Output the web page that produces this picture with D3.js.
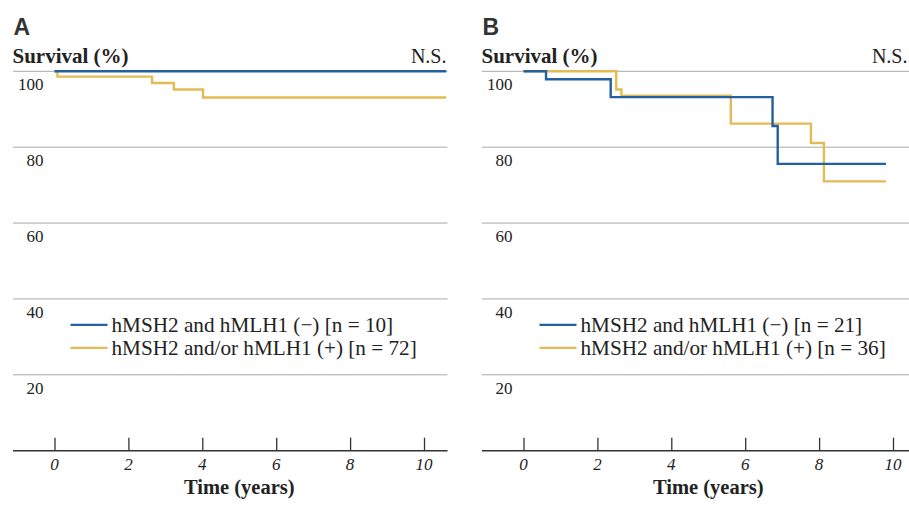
<!DOCTYPE html>
<html>
<head>
<meta charset="utf-8">
<script src="https://cdn.jsdelivr.net/npm/d3@7"></script>
<style>
  body { margin: 0; background: #fff; }
  svg { display: block; }
  .serif { font-family: "Liberation Serif", "Times New Roman", serif; fill: #222; }
</style>
</head>
<body>
<div id="chart"></div>
<script>
// ---- data ----
var timeTicks = [0, 2, 4, 6, 8, 10];
var survivalTicks = [20, 40, 60, 80, 100];

// panel A (step curves: value holds from each time to the next)
var aNegTimes = [0, 10.6];
var aNegSurv  = [100, 100];
var aPosTimes = [0, 0.08, 2.64, 3.23, 4.02, 10.6];
var aPosSurv  = [100, 98.6, 96.9, 95.2, 93.1, 93.1];

// panel B
var bNegTimes = [0, 0.61, 2.36, 6.74, 6.88, 9.81];
var bNegSurv  = [100, 97.9, 93.2, 85.6, 75.6, 75.6];
var bPosTimes = [0, 2.51, 2.65, 5.61, 7.78, 8.13, 9.81];
var bPosSurv  = [100, 95.2, 93.6, 86.2, 81.1, 71.0, 71.0];

var aLegend = ["hMSH2 and hMLH1 (\u2212) [n = 10]", "hMSH2 and/or hMLH1 (+) [n = 72]"];
var bLegend = ["hMSH2 and hMLH1 (\u2212) [n = 21]", "hMSH2 and/or hMLH1 (+) [n = 36]"];

var blue = "#23609f", yellow = "#e3bb55";

var W = 909, H = 507;
var svg = d3.select("#chart").append("svg")
    .attr("width", W)
    .attr("height", H);

function zip(ts, vs) {
    return ts.map(function(t, i) { return [t, vs[i]]; });
}

function drawPanel(p) {
    var g = svg.append("g")
        .attr("transform", "translate(" + p.x0 + ",0)");

    var x = d3.scaleLinear().domain([0, 10]).range([0, 369.5]);
    var y = d3.scaleLinear().domain([0, 100]).range([450.7, 71.3]);

    // panel letter
    g.append("text")
        .attr("x", -41).attr("y", 35)
        .style("font-family", "'Liberation Sans', Arial, sans-serif")
        .style("font-weight", "bold").style("font-size", "23px")
        .style("fill", "#333")
        .text(p.letter);

    g.append("text").attr("class", "serif")
        .attr("x", -42).attr("y", 63)
        .style("font-weight", "bold").style("font-size", "21px")
        .text("Survival (%)");

    g.append("text").attr("class", "serif")
        .attr("x", p.nsX).attr("y", 63)
        .attr("text-anchor", "end")
        .style("font-size", "20px")
        .text("N.S.");

    // horizontal gridlines
    g.selectAll(".grid")
        .data(survivalTicks)
        .enter().append("line")
        .attr("x1", -41.5).attr("x2", p.right)
        .attr("y1", function(d) { return y(d); })
        .attr("y2", function(d) { return y(d); })
        .attr("stroke", "#a8a8a8")
        .attr("stroke-width", 1);

    // y labels sit below their gridline
    g.selectAll(".ylab")
        .data(survivalTicks)
        .enter().append("text").attr("class", "serif")
        .attr("x", -11).attr("y", function(d) { return y(d) + 19; })
        .attr("text-anchor", "end")
        .style("font-size", "17px")
        .text(function(d) { return d; });

    // x axis
    var axis = g.append("g")
        .attr("transform", "translate(0," + y(0) + ")")
        .call(d3.axisTop(x).tickValues(timeTicks).tickSize(13).tickFormat(""));
    axis.select(".domain").remove();
    axis.selectAll(".tick line").attr("stroke", "#333").attr("stroke-width", 1.3);
    axis.append("line")
        .attr("x1", -41.5).attr("x2", p.right)
        .attr("stroke", "#333").attr("stroke-width", 1.6);

    g.selectAll(".xlab")
        .data(timeTicks)
        .enter().append("text").attr("class", "serif")
        .attr("x", function(d) { return x(d); })
        .attr("y", 469.5)
        .attr("text-anchor", "middle")
        .style("font-size", "17px").style("font-style", "italic")
        .text(function(d) { return d; });

    g.append("text").attr("class", "serif")
        .attr("x", x(5)).attr("y", 494)
        .attr("text-anchor", "middle")
        .style("font-weight", "bold").style("font-size", "20.5px")
        .text("Time (years)");

    // survival curves
    var line = d3.line()
        .x(function(d) { return x(d[0]); })
        .y(function(d) { return y(d[1]); })
        .curve(d3.curveStepAfter);

    g.append("path")
        .datum(zip(p.posT, p.posS))
        .attr("d", line)
        .attr("fill", "none")
        .attr("stroke", yellow)
        .attr("stroke-width", 2.4);

    g.append("path")
        .datum(zip(p.negT, p.negS))
        .attr("d", line)
        .attr("fill", "none")
        .attr("stroke", blue)
        .attr("stroke-width", 2.4);

    // legend
    var lg = g.append("g").attr("transform", "translate(0," + (y(40) + 26) + ")");
    [blue, yellow].forEach(function(c, i) {
        lg.append("line")
            .attr("x1", 16).attr("x2", 53)
            .attr("y1", i * 23).attr("y2", i * 23)
            .attr("stroke", c).attr("stroke-width", 2.2);
        lg.append("text").attr("class", "serif")
            .attr("x", 57).attr("y", i * 23 + 7)
            .style("font-size", "21.2px")
            .text(p.legend[i]);
    });
}

drawPanel({letter: "A", x0: 54.5, right: 393, nsX: 392,
    negT: aNegTimes, negS: aNegSurv, posT: aPosTimes, posS: aPosSurv, legend: aLegend});
drawPanel({letter: "B", x0: 523.5, right: 400, nsX: 384,
    negT: bNegTimes, negS: bNegSurv, posT: bPosTimes, posS: bPosSurv, legend: bLegend});
</script>
</body>
</html>
